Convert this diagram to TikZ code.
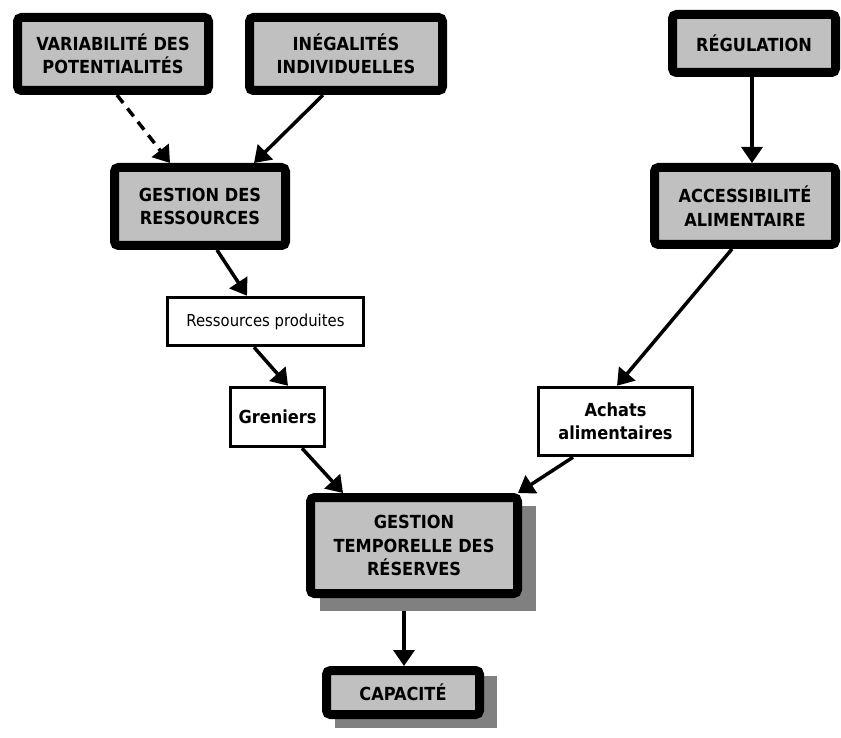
\documentclass[tikz,border=0pt]{standalone}
\usepackage{fontspec}
\setmainfont{DejaVu Sans Condensed}
\usetikzlibrary{arrows.meta}
\definecolor{boxgray}{RGB}{192,192,192}
\definecolor{shadowgray}{RGB}{128,128,128}
\tikzset{
  bigbox/.style={draw=black, line width=9pt, fill=boxgray, rounded corners=4pt, inner sep=0pt, align=center,
    font=\fontsize{18}{23.5}\selectfont\bfseries},
  smallbox/.style={draw=black, line width=3.5pt, fill=white, inner sep=0pt, align=center,
    font=\fontsize{18}{23}\selectfont\bfseries},
  shadowbox/.style={fill=shadowgray, inner sep=0pt},
  conn/.style={line width=3.5pt, -{Triangle[length=16pt,width=21pt]}},
  dashconn/.style={conn, dash pattern=on 10pt off 7pt}
}
\begin{document}
\begin{tikzpicture}[x=1pt,y=-1pt]
\useasboundingbox (0,0) rectangle (841,738);
% shadows
\node[shadowbox, minimum width=216pt, minimum height=105pt] (gtsh) at (428,558.5) {};
\node[shadowbox, minimum width=162pt, minimum height=52pt] (capsh) at (416,702) {};
% big boxes
\node[bigbox, minimum width=191pt, minimum height=73pt] (var) at (113,54) {VARIABILITÉ DES\\POTENTIALITÉS};
\node[bigbox, minimum width=193pt, minimum height=73pt] (ineg) at (346,54) {INÉGALITÉS\\INDIVIDUELLES};
\node[bigbox, minimum width=171pt, minimum height=78pt] (gr) at (200,206.5) {GESTION DES\\RESSOURCES};
\node[bigbox, minimum width=163pt, minimum height=58pt] (reg) at (754,43.5) {RÉGULATION};
\node[bigbox, minimum width=181pt, minimum height=77pt] (acc) at (745,206) {ACCESSIBILITÉ\\ALIMENTAIRE};
\node[bigbox, minimum width=207pt, minimum height=96pt] (gt) at (414,545.5) {GESTION\\TEMPORELLE DES\\RÉSERVES};
\node[bigbox, minimum width=153pt, minimum height=44pt] (cap) at (403,692.5) {CAPACITÉ};
% small boxes
\node[smallbox, minimum width=196pt, minimum height=48pt, font=\fontsize{16.5}{20}\selectfont] (res) at (265.5,321.5) {Ressources produites};
\node[smallbox, minimum width=94pt, minimum height=59pt] (gren) at (277.5,417) {Greniers};
\node[smallbox, minimum width=154pt, minimum height=68pt] (ach) at (615.5,421.5) {Achats\\alimentaires};
% connectors
\draw[dashconn] ([xshift=4pt]var.south) -- ([xshift=-30pt]gr.north);
\draw[conn] ([xshift=-23pt]ineg.south) -- ([xshift=54pt]gr.north);
\draw[conn] ([xshift=-2pt]reg.south) -- ([xshift=7pt]acc.north);
\draw[conn] ([xshift=17pt]gr.south) -- ([xshift=-18.5pt]res.north);
\draw[conn] ([xshift=-11.5pt]res.south) -- ([xshift=10.5pt]gren.north);
\draw[conn] ([xshift=-13pt]acc.south) -- ([xshift=1.5pt]ach.north);
\draw[conn] ([xshift=24.5pt]gren.south) -- ([xshift=-71pt]gt.north);
\draw[conn] ([xshift=-42.5pt]ach.south) -- ([xshift=-4pt]gt.north east);
\draw[conn] ([xshift=-24pt]gtsh.south) -- ([xshift=1pt]cap.north);
\end{tikzpicture}
\end{document}
